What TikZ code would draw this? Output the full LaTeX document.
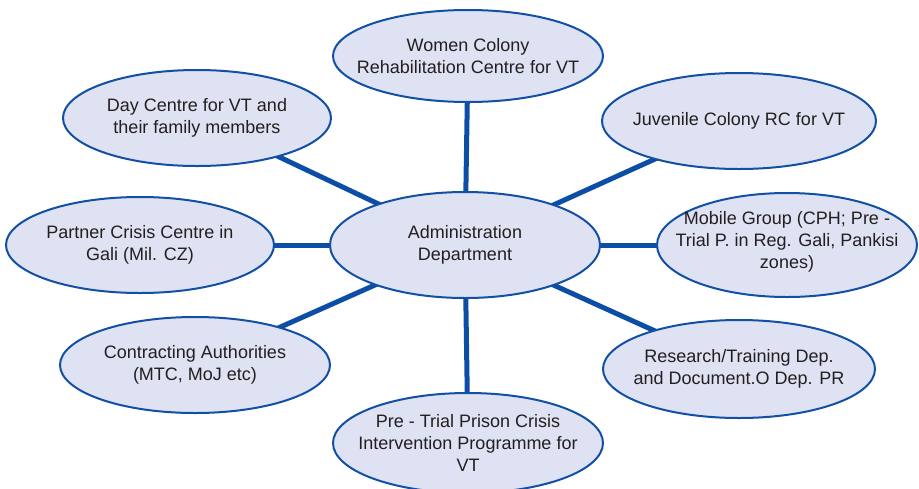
\documentclass[tikz,border=0pt]{standalone}
\usepackage{fontspec}
\setmainfont{Liberation Sans}
\usetikzlibrary{shapes.geometric,backgrounds}
\definecolor{bubfill}{RGB}{223,226,242}
\definecolor{bubline}{RGB}{18,80,165}
\definecolor{connline}{RGB}{12,78,165}
\definecolor{txtcol}{RGB}{35,31,32}
\begin{document}
\begin{tikzpicture}[x=1pt,y=-1pt,
  bub/.style={ellipse,draw=bubline,line width=2pt,fill=bubfill,inner sep=0pt},
  txt/.style={align=center,font=\fontsize{18}{22}\selectfont,text=txtcol,inner sep=0pt},
  conn/.style={draw=connline,line width=5pt}]
\useasboundingbox (0,0) rectangle (919,488);
\node[bub,minimum width=270,minimum height=106] (adm) at (465,245) {};
\node[txt] at (adm) {Administration\\Department};
\node[bub,minimum width=270,minimum height=92] (wom) at (468,56) {};
\node[txt] at (wom) {Women Colony\\Rehabilitation Centre for VT};
\node[bub,minimum width=268,minimum height=96] (day) at (197,118) {};
\node[txt] at (day) {Day Centre for VT and\\their family members};
\node[bub,minimum width=274,minimum height=96] (juv) at (739,121) {};
\node[txt] at (juv) {Juvenile Colony RC for VT};
\node[bub,minimum width=268,minimum height=96] (par) at (140,245) {};
\node[txt] at (par) {Partner Crisis Centre in\\Gali (Mil. CZ)};
\node[bub,minimum width=260,minimum height=104] (mob) at (787,245) {};
\node[txt] at ([yshift=3]mob.center) {Mobile Group (CPH; Pre -\\Trial P. in Reg. Gali, Pankisi\\zones)};
\node[bub,minimum width=270,minimum height=96] (con) at (195,365) {};
\node[txt] at (con) {Contracting Authorities\\(MTC, MoJ etc)};
\node[bub,minimum width=272,minimum height=98] (res) at (739,369) {};
\node[txt] at (res) {Research/Training Dep.\\and Document.O Dep. PR};
\node[bub,minimum width=270,minimum height=100] (pre) at (468,443) {};
\node[txt] at (pre) {Pre - Trial Prison Crisis\\Intervention Programme for\\VT};
\begin{scope}[on background layer]
\foreach \n in {wom,day,juv,par,mob,con,res,pre}
  \draw[conn] (adm.center) -- (\n.center);
\end{scope}
\end{tikzpicture}
\end{document}
